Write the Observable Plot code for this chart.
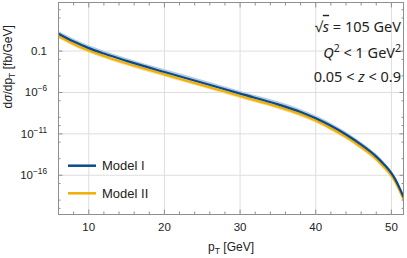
<!DOCTYPE html>
<html><head><meta charset="utf-8">
<script src="https://cdn.jsdelivr.net/npm/d3@7"></script>
<script src="https://cdn.jsdelivr.net/npm/@observablehq/plot@0.6"></script>
<style>html,body{margin:0;padding:0;background:#fff}svg{display:block}</style>
</head><body><div id="chart"></div>
<script>
// ---- data ----
const pT      = [6, 8, 10, 12, 15, 20, 25, 30, 35, 38, 40, 42, 44, 46, 48, 49, 50, 50.5, 51, 51.6];
const modelI  = [12.6, 1.41, 0.229, 5.0e-2, 6.5e-3, 2.95e-4, 1.5e-5, 7.2e-7, 3.7e-8, 4.5e-9, 7.6e-10, 9.5e-11, 8.5e-12, 5.0e-13, 1.8e-14, 2.2e-15, 1.8e-16, 3.4e-17, 4.2e-18, 2.5e-19];
const modelII = [6.6, 0.74, 0.12, 2.6e-2, 3.4e-3, 1.55e-4, 7.8e-6, 3.7e-7, 1.9e-8, 2.3e-9, 4.0e-10, 4.9e-11, 4.4e-12, 2.6e-13, 9.4e-15, 1.1e-15, 9.4e-17, 1.8e-17, 2.2e-18, 1.3e-19];
const bandFactor = 2.0; // uncertainty band width (factor)
const seriesNames  = ["Model I", "Model II"];
const seriesColors = ["#0d4a8a", "#f0b000"];
const bandColors   = ["#b3cbe0", "#fbd88e"];
const xMajorTicks = [10, 20, 30, 40, 50];
const xMinorTicks = [6, 8, 12, 14, 16, 18, 22, 24, 26, 28, 32, 34, 36, 38, 42, 44, 46, 48];
const yMajorTicks = [1e-16, 1e-11, 1e-6, 1e-1];
const yTickLabels = ["10^-16", "10^-11", "10^-6", "0.1"];
const yMinorTicks = [1e4, 1e3, 1e-2, 1e-4, 1e-7, 1e-9, 1e-10, 1e-12, 1e-14, 1e-17, 1e-19, 1e-20];
const xLabel = "pT [GeV]";
const yLabel = "dσ/dpT [fb/GeV]";
const annotations = ["√s = 105 GeV", "Q2 < 1 GeV2", "0.05 < z < 0.9"];

const rows = pT.map((x, i) => ({pT: x, I: modelI[i], II: modelII[i]}));
const frameColor = "#8f8f8f";
const gridColor = "#dedede";
const annFont = "'Noto Sans', 'Open Sans', sans-serif";
const annSize = 14.5;

const plot = Plot.plot({
  width: 407, height: 258,
  marginLeft: 58, marginRight: 4, marginTop: 2, marginBottom: 44,
  style: {fontFamily: "'Liberation Sans', Arial, sans-serif", fontSize: "11.5px", background: "white", color: "#222"},
  x: {domain: [6, 51.6], axis: null},
  y: {type: "log", domain: [Math.pow(10, -20.74), Math.pow(10, 4.87)], axis: null},
  marks: [
    Plot.gridX(xMajorTicks, {stroke: gridColor, strokeOpacity: 1}),
    Plot.gridY(yMajorTicks, {stroke: gridColor, strokeOpacity: 1}),
    Plot.areaY(rows, {x: "pT", y1: d => d.II / bandFactor, y2: "II", fill: bandColors[1], curve: "monotone-x", clip: true}),
    Plot.areaY(rows, {x: "pT", y1: "I", y2: d => d.I * bandFactor, fill: bandColors[0], curve: "monotone-x", clip: true}),
    Plot.lineY(rows, {x: "pT", y: "II", stroke: seriesColors[1], strokeWidth: 2.2, curve: "monotone-x", clip: true}),
    Plot.lineY(rows, {x: "pT", y: "I", stroke: seriesColors[0], strokeWidth: 2.2, curve: "monotone-x", clip: true}),
    Plot.frame({stroke: frameColor}),
    // inward tick marks on all four sides
    Plot.axisX(xMajorTicks, {anchor: "bottom", tickSize: -4.5, tickFormat: () => "", label: null, stroke: frameColor}),
    Plot.axisX(xMinorTicks, {anchor: "bottom", tickSize: -2.5, tickFormat: () => "", label: null, stroke: frameColor}),
    Plot.axisX(xMajorTicks, {anchor: "top", tickSize: -4.5, tickFormat: () => "", label: null, stroke: frameColor}),
    Plot.axisX(xMinorTicks, {anchor: "top", tickSize: -2.5, tickFormat: () => "", label: null, stroke: frameColor}),
    Plot.axisY(yMajorTicks, {anchor: "left", tickSize: -4.5, tickFormat: () => "", label: null, stroke: frameColor}),
    Plot.axisY(yMinorTicks, {anchor: "left", tickSize: -2.5, tickFormat: () => "", label: null, stroke: frameColor}),
    Plot.axisY(yMajorTicks, {anchor: "right", tickSize: -4.5, tickFormat: () => "", label: null, stroke: frameColor}),
    Plot.axisY(yMinorTicks, {anchor: "right", tickSize: -2.5, tickFormat: () => "", label: null, stroke: frameColor}),
    // tick labels
    Plot.axisX(xMajorTicks, {anchor: "bottom", tickSize: 0, tickPadding: 8.5, label: null, tickFormat: d => String(d)}),
    Plot.axisY(yMajorTicks, {anchor: "left", tickSize: 0, tickPadding: 11.5, label: null, tickFormat: d => yTickLabels[yMajorTicks.indexOf(d)]}),
    // axis titles
    Plot.text([xLabel], {frameAnchor: "bottom", dy: 36, fontSize: 12}),
    Plot.text([yLabel], {frameAnchor: "left", dx: -50, rotate: -90, fontSize: 12}),
    // annotations
    Plot.text([annotations[0]], {frameAnchor: "top-right", dx: -2.5, dy: 19, textAnchor: "end", fontSize: annSize, fontFamily: annFont}),
    Plot.text([annotations[1]], {frameAnchor: "top-right", dx: -2.5, dy: 45, textAnchor: "end", fontSize: annSize, fontFamily: annFont}),
    Plot.text([annotations[2]], {frameAnchor: "top-right", dx: -2.5, dy: 69.5, textAnchor: "end", fontSize: annSize, fontFamily: annFont})
  ]
});

// rich text helper: parts = [[string, kind]]
function setRich(el, parts, fs) {
  const t = d3.select(el);
  t.text(null);
  let shift = 0;
  for (const [s, kind] of parts) {
    const ts = t.append("tspan").text(s);
    let target = 0;
    if (kind === "sup") { target = -fs * 0.42; ts.attr("font-size", fs * 0.72); }
    else if (kind === "sub") { target = fs * 0.25; ts.attr("font-size", fs * 0.72); }
    else if (kind === "i") ts.attr("font-style", "italic");
    else if (kind === "iover") ts.attr("font-style", "italic").style("text-decoration", "overline");
    if (target !== shift) { ts.attr("dy", target - shift); shift = target; }
  }
}
const richMap = new Map([
  [xLabel, [[["p", ""], ["T", "sub"], [" [GeV]", ""]], 12]],
  [yLabel, [[["d", ""], ["σ", "i"], ["/dp", ""], ["T", "sub"], [" [fb/GeV]", ""]], 12]],
  [annotations[0], [[["√", ""], ["s", "iover"], [" = 105 GeV", ""]], annSize]],
  [annotations[1], [[["Q", "i"], ["2", "sup"], [" < 1 GeV", ""], ["2", "sup"]], annSize]],
  [annotations[2], [[["0.05 < ", ""], ["z", "i"], [" < 0.9", ""]], annSize]]
]);
const svg = d3.select(plot);
svg.selectAll("text").each(function() {
  const s = d3.select(this).text();
  const m = s.match(/^10\^(-?)(\d+)$/);
  if (m) setRich(this, [["10", ""], [(m[1] ? "\u2212" : "") + m[2], "sup"]], 11.5);
  else if (richMap.has(s)) { const [parts, fs] = richMap.get(s); setRich(this, parts, fs); }
});

// legend inside the frame (lower left)
const legend = svg.append("g").attr("font-family", "'Liberation Sans', Arial, sans-serif").attr("font-size", 13).attr("fill", "#222").attr("text-anchor", "start");
seriesNames.forEach((name, i) => {
  const y = 165.7 + i * 27.6;
  legend.append("line").attr("x1", 68).attr("x2", 96).attr("y1", y).attr("y2", y)
    .attr("stroke", seriesColors[i]).attr("stroke-width", 2.5);
  legend.append("text").attr("x", 102).attr("y", y).attr("dy", "0.35em").text(name);
});

document.getElementById("chart").appendChild(plot);
</script>
</body></html>
